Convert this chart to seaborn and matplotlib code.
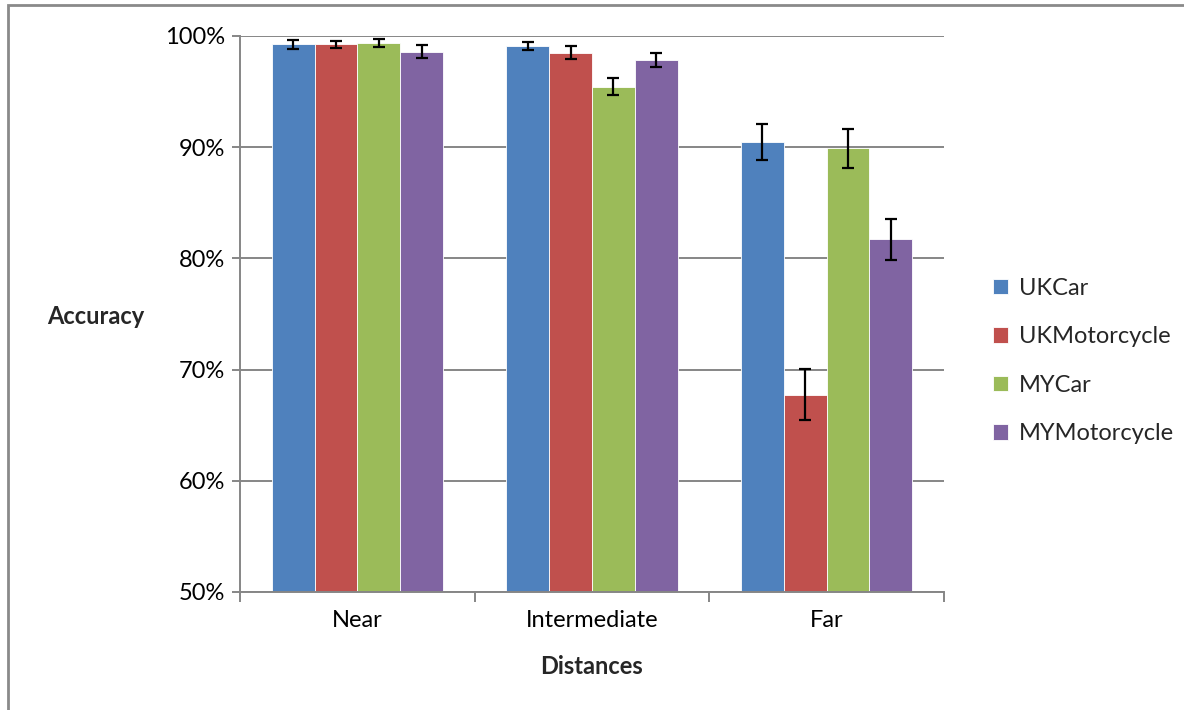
import pandas as pd
import matplotlib
matplotlib.use('Agg')
import matplotlib.pyplot as plt
from matplotlib.ticker import PercentFormatter, FixedLocator
from matplotlib.patches import Rectangle
import seaborn as sns

# data (accuracy in %)
distances = ['Near', 'Intermediate', 'Far']
groups = ['UKCar', 'UKMotorcycle', 'MYCar', 'MYMotorcycle']

uk_car = [99.25, 99.1, 90.45]
uk_motorcycle = [99.25, 98.5, 67.75]
my_car = [99.4, 95.45, 89.9]
my_motorcycle = [98.6, 97.85, 81.7]

uk_car_err = [0.4, 0.4, 1.6]
uk_motorcycle_err = [0.3, 0.6, 2.3]
my_car_err = [0.35, 0.75, 1.75]
my_motorcycle_err = [0.55, 0.65, 1.8]

colors = ['#4F81BD', '#C0504D', '#9BBB59', '#8064A2']

sns.set_theme(style='white')
plt.rcParams['font.family'] = ['Lato', 'DejaVu Sans']

values = [uk_car, uk_motorcycle, my_car, my_motorcycle]
errors = [uk_car_err, uk_motorcycle_err, my_car_err, my_motorcycle_err]

rows = []
for g, vals in zip(groups, values):
    for d, v in zip(distances, vals):
        rows.append({'Distance': d, 'Group': g, 'Accuracy': v})
df = pd.DataFrame(rows)

fig = plt.figure(figsize=(11.84, 7.10), dpi=100)
ax = fig.add_axes([240 / 1184, 1 - 592 / 710, 704 / 1184, 556 / 710])

sns.barplot(data=df, x='Distance', y='Accuracy', hue='Group', order=distances,
            hue_order=groups, palette=colors, width=0.73, saturation=1,
            errorbar=None, edgecolor='white', linewidth=0.6, ax=ax, zorder=2)

# error bars on each bar
for container, errs in zip(ax.containers, errors):
    for bar, e in zip(container, errs):
        ax.errorbar(bar.get_x() + bar.get_width() / 2, bar.get_height(), yerr=e,
                    fmt='none', ecolor='black', elinewidth=1.6, capsize=4.5,
                    capthick=1.6, zorder=3)

grid_col = '#868686'
ax.set_ylim(50, 100)
ax.set_xlim(-0.5, 2.5)
ax.yaxis.set_major_locator(FixedLocator([50, 60, 70, 80, 90, 100]))
ax.yaxis.set_major_formatter(PercentFormatter(decimals=0))
ax.grid(axis='y', color=grid_col, linewidth=1.4, zorder=0)
ax.set_axisbelow(True)

for s in ['top', 'right']:
    ax.spines[s].set_visible(False)
for s in ['left', 'bottom']:
    ax.spines[s].set_color(grid_col)
    ax.spines[s].set_linewidth(1.4)

ax.tick_params(axis='y', left=True, length=6, width=1.4, color=grid_col,
               labelsize=17, pad=5, labelcolor='black')
ax.tick_params(axis='x', which='major', length=0, labelsize=17, pad=13,
               labelcolor='black')
ax.set_xticks([-0.5, 0.5, 1.5, 2.5], minor=True)
ax.tick_params(axis='x', which='minor', bottom=True, length=7, width=1.4,
               color=grid_col)

ax.set_xlabel('')
ax.set_ylabel('')
fig.text(96 / 1184, 1 - 316 / 710, 'Accuracy', ha='center', va='center',
         fontsize=17, fontweight='bold')
fig.text(592 / 1184, 1 - 667 / 710, 'Distances', ha='center', va='center',
         fontsize=17, fontweight='bold')

handles, labels = ax.get_legend_handles_labels()
ax.legend(handles, labels, loc='center left',
          bbox_to_anchor=(984 / 1184, 1 - 361 / 710),
          bbox_transform=fig.transFigure, frameon=False, fontsize=17,
          handlelength=0.62, handleheight=0.62, handletextpad=0.45,
          labelspacing=1.17, borderaxespad=0)

# chart frame (cut off at right and bottom in the reference)
fig.patches.append(Rectangle((8 / 1184, -0.1), 1.2, 1 - 5 / 710 + 0.1,
                             transform=fig.transFigure, fill=False,
                             edgecolor='#8a8a8a', linewidth=2))

fig.savefig('out.png', dpi=100)
